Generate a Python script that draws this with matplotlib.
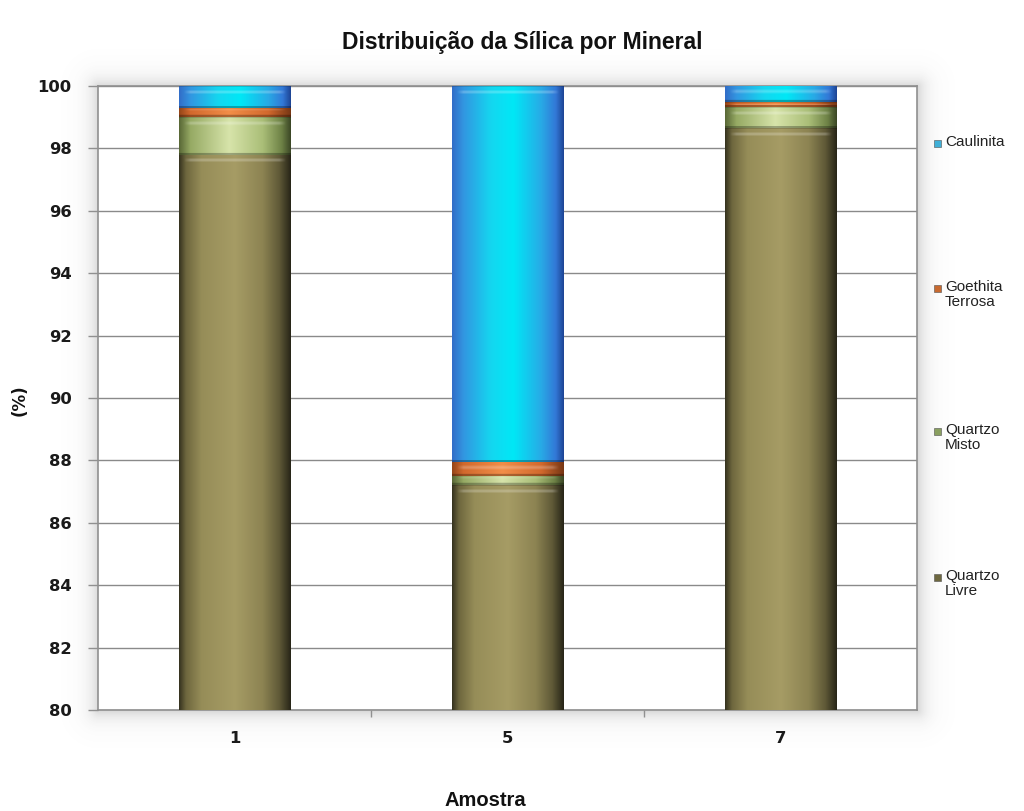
import numpy as np
import matplotlib
matplotlib.use("Agg")
import matplotlib.pyplot as plt
from matplotlib.patches import Rectangle

# Data: silica distribution by mineral (%) per sample
amostras = ["1", "5", "7"]
quartzo_livre = [97.8, 87.2, 98.65]
quartzo_misto = [1.2, 0.3, 0.67]
goethita_terrosa = [0.3, 0.45, 0.16]
caulinita = [0.7, 12.05, 0.52]

series_names = ["Quartzo\nLivre", "Quartzo\nMisto", "Goethita\nTerrosa", "Caulinita"]
series_values = [quartzo_livre, quartzo_misto, goethita_terrosa, caulinita]

# Horizontal shading stops for a cylindrical look (position, rgb)
shade_stops = [
    [(0.0, (55, 52, 32)), (0.06, (110, 103, 62)), (0.2, (150, 141, 88)),
     (0.5, (166, 156, 101)), (0.75, (140, 131, 82)), (0.9, (95, 89, 55)), (1.0, (40, 38, 24))],
    [(0.0, (90, 105, 55)), (0.1, (150, 170, 100)), (0.45, (215, 228, 170)),
     (0.75, (170, 190, 120)), (0.92, (110, 130, 70)), (1.0, (60, 72, 38))],
    [(0.0, (150, 70, 25)), (0.1, (210, 105, 45)), (0.45, (242, 142, 72)),
     (0.8, (210, 105, 45)), (1.0, (120, 55, 20))],
    [(0.0, (50, 110, 200)), (0.1, (50, 150, 225)), (0.35, (20, 215, 240)),
     (0.55, (0, 232, 246)), (0.8, (40, 170, 230)), (0.93, (50, 120, 215)), (1.0, (30, 70, 150))],
]
base_colors = ["#9a9060", "#b8cc90", "#e07830", "#30c8e8"]
legend_colors = ["#6e6840", "#8aa060", "#c86a30", "#40b0d8"]

W, H, DPI = 1024, 811, 100
fig = plt.figure(figsize=(W / DPI, H / DPI), dpi=DPI)
fig.patch.set_facecolor("white")

ax_l, ax_r, ax_t, ax_b = 98, 917, 86, 710
ax = fig.add_axes([ax_l / W, 1 - ax_b / H, (ax_r - ax_l) / W, (ax_b - ax_t) / H])
YMIN, YMAX = 80, 100

# Soft glow around the plot area
bg = fig.add_axes([0, 0, 1, 1], zorder=-1)
bg.set_axis_off()
yy, xx = np.mgrid[0:H, 0:W]
dx = np.maximum(np.maximum(ax_l - xx, xx - ax_r), 0)
dy = np.maximum(np.maximum(ax_t - yy, yy - ax_b), 0)
d = np.hypot(dx, dy)
alpha = 0.26 * np.exp(-d / 9.0)
glow = np.zeros((H, W, 4))
glow[..., :3] = 0.4
glow[..., 3] = alpha
bg.imshow(glow, extent=[0, 1, 0, 1], aspect="auto", origin="upper")
bg.set_xlim(0, 1)
bg.set_ylim(0, 1)


def profile(stops, n=120):
    xs = np.linspace(0, 1, n)
    pos = [s[0] for s in stops]
    cols = np.array([s[1] for s in stops], dtype=float) / 255.0
    return np.stack([np.interp(xs, pos, cols[:, k]) for k in range(3)], axis=1)


x = np.arange(len(amostras))
width = 0.41
px_per_unit = (ax_b - ax_t) / float(YMAX - YMIN)
bottom = np.zeros(len(amostras))
for name, vals, stops, col in zip(series_names, series_values, shade_stops, base_colors):
    bars = ax.bar(x, vals, width, bottom=bottom, color=col, label=name,
                  linewidth=0, zorder=2)
    prof = profile(stops)
    for bar in bars:
        bx, by = bar.get_x(), bar.get_y()
        bw, bh = bar.get_width(), bar.get_height()
        # only the part inside the visible y-range gets the shaded fill
        vis_lo = max(by, YMIN)
        vis_hi = min(by + bh, YMAX)
        if vis_hi <= vis_lo:
            continue
        ny = max(int(round((vis_hi - vis_lo) * px_per_unit)), 3)
        img = np.repeat(prof[None, :, :], ny, axis=0)
        mod = np.ones(ny)
        mod[-2:] = 0.72
        mod[:1] = 0.85
        if by < YMIN:
            mod[-2:] = 1.0
        img = img * mod[:, None, None]
        hl = np.zeros(ny)
        if ny > 10:
            hl[4:8] = np.array([0.1, 0.22, 0.22, 0.1])
        elif ny > 4:
            hl[2:3] = 0.15
        xs = np.linspace(0, 1, img.shape[1])
        hmask = np.clip(np.minimum((xs - 0.04) / 0.06, (0.96 - xs) / 0.06), 0, 1)
        img = img + (1 - img) * (hl[:, None] * hmask[None, :])[:, :, None]
        clip = Rectangle((bx, vis_lo), bw, vis_hi - vis_lo, transform=ax.transData)
        im = ax.imshow(np.clip(img, 0, 1), extent=[bx, bx + bw, vis_lo, vis_hi],
                       aspect="auto", origin="upper", interpolation="bilinear", zorder=3)
        im.set_clip_path(clip)
        bar.set_visible(False)
    bottom = bottom + np.array(vals)

ax.set_xlim(-0.5, len(amostras) - 0.5)
ax.set_ylim(YMIN, YMAX)
ax.set_yticks(np.arange(YMIN, YMAX + 1, 2))
ax.set_xticks(x)
ax.set_xticklabels(amostras)
ax.set_xticks(x[:-1] + 0.5, minor=True)
ax.tick_params(axis="x", which="major", length=0, pad=15)
ax.tick_params(axis="x", which="minor", length=5, color="#909090", width=1)
ax.tick_params(axis="y", length=7, color="#909090", width=1, pad=12)
for lbl in ax.get_xticklabels() + ax.get_yticklabels():
    lbl.set_fontfamily("DejaVu Sans")
    lbl.set_fontweight("bold")
    lbl.set_fontsize(11.8)
    lbl.set_color("#1a1a1a")
ax.grid(axis="y", color="#8a8a8a", linewidth=1, zorder=1)
ax.set_axisbelow(True)
for side in ["left", "bottom", "right", "top"]:
    ax.spines[side].set_color("#909090")
    ax.spines[side].set_linewidth(1.2)

fig.text(522 / W, 1 - 42 / H, "Distribuição da Sílica por Mineral", ha="center", va="center",
         fontfamily="Liberation Sans", fontweight="bold", fontsize=16.5, color="#111111")
fig.text(485 / W, 1 - 800 / H, "Amostra", ha="center", va="center",
         fontfamily="Liberation Sans", fontweight="bold", fontsize=14.5, color="#111111")
fig.text(20 / W, 1 - 400 / H, "(%)", ha="center", va="center", rotation=90,
         fontfamily="DejaVu Sans", fontweight="bold", fontsize=12, color="#111111")

# Legend entries on the right, top line aligned with the marker
legend_y = {"Caulinita": 143, "Goethita\nTerrosa": 288, "Quartzo\nMisto": 431, "Quartzo\nLivre": 577}
for name, lcol in zip(series_names, legend_colors):
    y0 = legend_y[name]
    fig.patches.append(Rectangle((934 / W, 1 - (y0 + 3.5) / H), 7 / W, 7 / H,
                                 transform=fig.transFigure, facecolor=lcol,
                                 edgecolor="#505050", linewidth=0.4))
    fig.text(945 / W, 1 - (y0 - 8) / H, name, ha="left", va="top",
             fontfamily="Liberation Sans", fontsize=11, color="#222222", linespacing=1.1)

fig.savefig("out.png", dpi=DPI)
